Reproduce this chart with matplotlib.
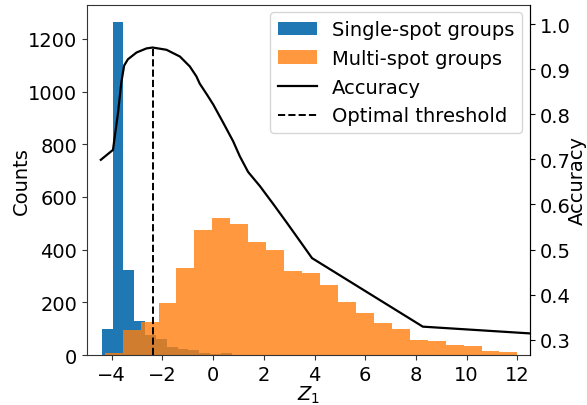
import numpy as np
import matplotlib
matplotlib.use("Agg")
import matplotlib.pyplot as plt

# Single-spot groups histogram (12 bins)
single_start = -4.394
single_width = 0.4277
single_counts = [100, 1266, 323, 128, 77, 61, 32, 23, 19, 8, 4, 8]

# Multi-spot groups histogram (23 bins)
multi_start = -4.276
multi_width = 0.7077
multi_counts = [8, 95, 124, 198, 332, 473, 521, 498, 431, 397, 320, 312,
                266, 202, 160, 122, 99, 57, 53, 38, 34, 15, 11]

# Accuracy curve
acc_x = [-4.43, -3.95, -3.75, -3.62, -3.51, -3.36, -3.02, -2.63, -2.39,
         -1.84, -1.31, -0.92, -0.66, -0.53, -0.26, 0.0, 0.39, 0.79, 1.05,
         1.38, 1.84, 2.37, 2.90, 3.42, 3.90, 8.27, 12.5]
acc_y = [0.699, 0.721, 0.804, 0.871, 0.908, 0.922, 0.937, 0.946, 0.948,
         0.943, 0.928, 0.906, 0.884, 0.868, 0.845, 0.822, 0.782, 0.740, 0.707,
         0.672, 0.641, 0.601, 0.560, 0.519, 0.481, 0.329, 0.314]
opt_threshold = -2.39
opt_accuracy = 0.948

plt.rcParams['font.size'] = 14

fig = plt.figure(figsize=(5.87, 4.06), dpi=100)
ax1 = fig.add_axes([0.148, 0.123, 0.755, 0.863])

s_edges = single_start + single_width * np.arange(len(single_counts) + 1)
m_edges = multi_start + multi_width * np.arange(len(multi_counts) + 1)
s_centers = (s_edges[:-1] + s_edges[1:]) / 2
m_centers = (m_edges[:-1] + m_edges[1:]) / 2

ax1.hist(s_centers, bins=s_edges, weights=single_counts, color='#1f77b4',
         label='Single-spot groups')
ax1.hist(m_centers, bins=m_edges, weights=multi_counts, color='#ff7f0e',
         alpha=0.8, label='Multi-spot groups')
ax1.set_ylim(0, 1330)
ax1.set_xlim(-4.98, 12.5)
ax1.set_xticks(np.arange(-4, 13, 2))
ax1.set_yticks(np.arange(0, 1201, 200))
ax1.set_ylabel('Counts', labelpad=-2)
ax1.set_xlabel('$Z_1$', labelpad=0)
for sp in ax1.spines.values():
    sp.set_color('#333333')
ax1.tick_params(color='#333333')

ax2 = ax1.twinx()
ln1, = ax2.plot(acc_x, acc_y, color='black', lw=1.6, label='Accuracy')
ln2, = ax2.plot([opt_threshold, opt_threshold], [0.266, opt_accuracy],
                color='black', ls='--', lw=1.4, label='Optimal threshold')
ax2.set_ylim(0.266, 1.043)
ax2.set_yticks(np.arange(0.3, 1.01, 0.1))
ax2.set_ylabel('Accuracy', labelpad=-2)
for side in ['left', 'top', 'bottom']:
    ax2.spines[side].set_visible(False)

h1, l1 = ax1.get_legend_handles_labels()
ax2.legend(h1 + [ln1, ln2], l1 + ['Accuracy', 'Optimal threshold'],
           loc='upper right', borderaxespad=0.4)

fig.savefig('out.png', dpi=100)
